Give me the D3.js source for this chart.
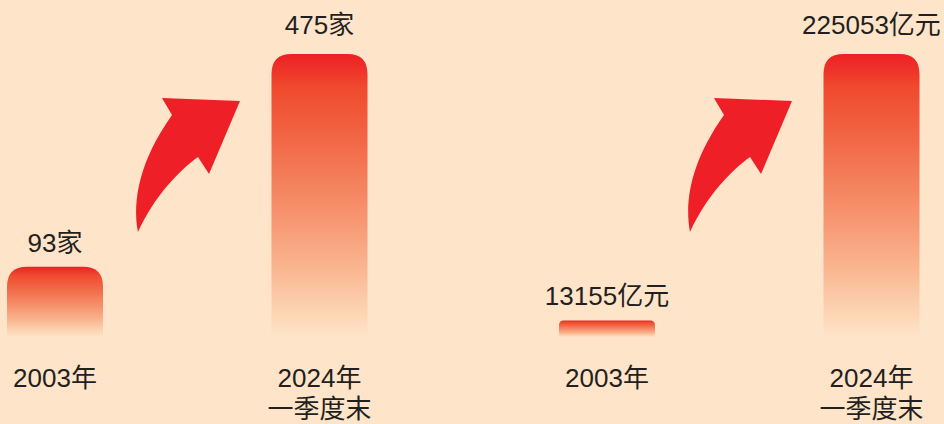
<!DOCTYPE html>
<html>
<head>
<meta charset="utf-8">
<script src="https://cdn.jsdelivr.net/npm/d3@7"></script>
<style>
  html, body { margin: 0; padding: 0; background: #fee4c9; }
  svg { display: block; }
  text { font-family: "Liberation Sans", Arial, "Noto Sans CJK SC", sans-serif; fill: #231f20; }
</style>
</head>
<body>
<svg id="chart"></svg>
<script>
// data
const years = ['2003年', '2024年\n一季度末'];
const companyCounts = [93, 475];
const marketValues = [13155, 225053];

const width = 944, height = 424;
const baseline = 337, topY = 54;
const barWidth = 96;

const svg = d3.select('#chart').attr('width', width).attr('height', height);

// vertical fade used by every bar
const grad = svg.append('defs').append('linearGradient')
  .attr('id', 'barFade')
  .attr('x1', 0).attr('y1', 0).attr('x2', 0).attr('y2', 1);
[
  [0, '#ee1f24'], [0.12, '#ef4a2e'], [0.32, '#f26a48'],
  [0.55, '#f6916c'], [0.75, '#f9b48e'], [0.9, '#fcd2b0'], [1, '#fee4c9'],
].forEach(([o, c]) => grad.append('stop').attr('offset', o).attr('stop-color', c));

// bar with rounded top corners
function barPath(x, y, w, h) {
  const r = Math.min(20, h * 0.3);
  return `M${x},${y + h} L${x},${y + r} Q${x},${y} ${x + r},${y}
    L${x + w - r},${y} Q${x + w},${y} ${x + w},${y + r} L${x + w},${y + h} Z`;
}

// curved arrow between the two bars (local panel coords)
const arrowPath = 'M162,98 L240,101 L209,174 L198,157 C180,170 155,195 138,232 C132,200 140,160 172,115 Z';

const panels = [
  { values: companyCounts, unit: '家', offset: 0, floor: -33 },
  { values: marketValues, unit: '亿元', offset: 552, floor: 0 },
];

panels.forEach((p) => {
  const g = svg.append('g').attr('transform', `translate(${p.offset},0)`);

  const x = d3.scalePoint().domain(years).range([55, 319.5]);
  const y = d3.scaleLinear()
    .domain([p.floor, d3.max(p.values)])
    .range([baseline, topY]);
  const maxV = d3.max(p.values);

  g.selectAll('.bar')
    .data(p.values)
    .join('path')
    .attr('class', 'bar')
    .attr('fill', 'url(#barFade)')
    .attr('d', (d, i) => {
      const top = y(d);
      return barPath(x(years[i]) - barWidth / 2, top, barWidth, baseline - top);
    });

  g.selectAll('.value')
    .data(p.values)
    .join('text')
    .attr('class', 'value')
    .attr('x', (d, i) => x(years[i]))
    .attr('y', (d) => y(d) - (d === maxV ? 20 : 15))
    .attr('text-anchor', 'middle')
    .attr('font-size', 26)
    .text((d) => d + p.unit);

  const labels = g.selectAll('.cat')
    .data(years)
    .join('text')
    .attr('class', 'cat')
    .attr('text-anchor', 'middle')
    .attr('font-size', 26)
    .attr('x', (d) => x(d))
    .attr('y', 387);
  labels.selectAll('tspan')
    .data((d) => d.split('\n').map((t) => ({ t, cx: x(d) })))
    .join('tspan')
    .attr('x', (d) => d.cx)
    .attr('dy', (d, i) => (i === 0 ? 0 : 31))
    .text((d) => d.t);

  g.append('path').attr('d', arrowPath).attr('fill', '#ee1f27');
});
</script>
</body>
</html>
